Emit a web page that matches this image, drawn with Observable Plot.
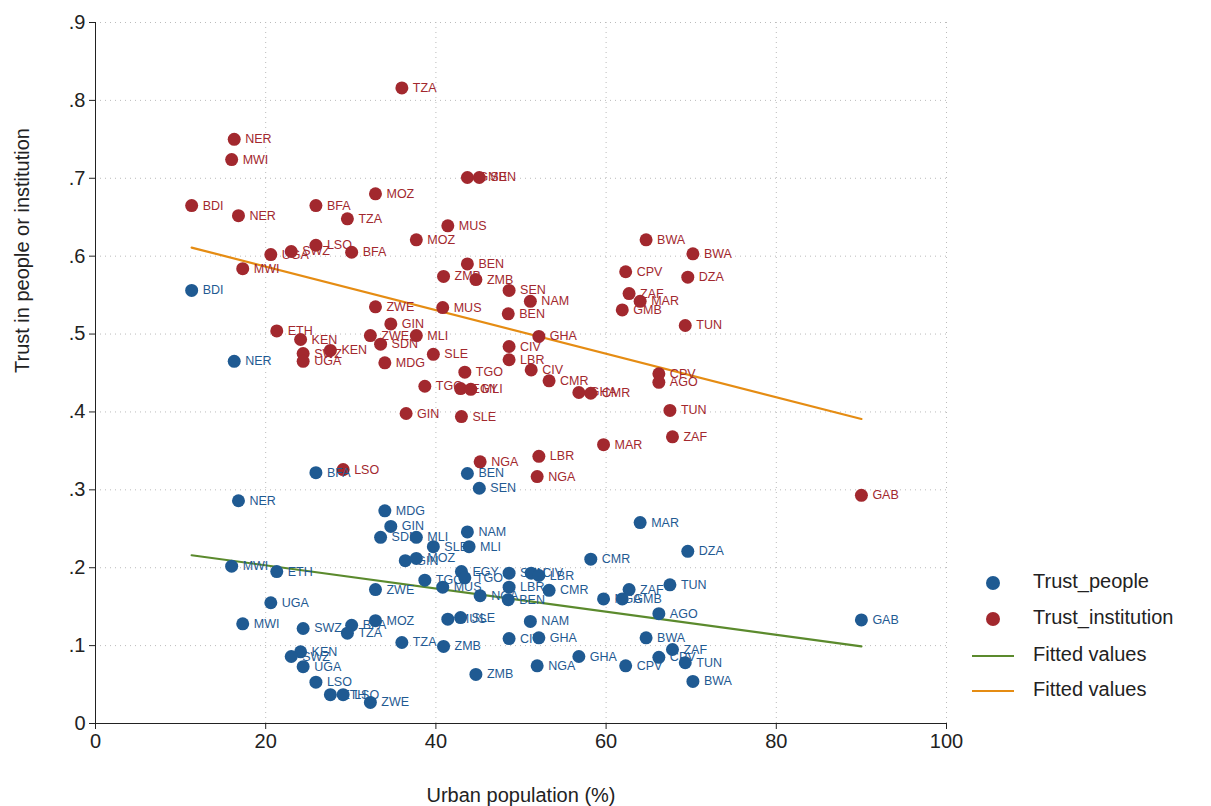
<!DOCTYPE html>
<html><head><meta charset="utf-8">
<script src="https://cdn.jsdelivr.net/npm/d3@7"></script>
<script src="https://cdn.jsdelivr.net/npm/@observablehq/plot@0.6"></script>
<style>
body{margin:0;background:#fff;font-family:Arial,"Liberation Sans",sans-serif}
#wrap{position:relative;width:1211px;height:806px}
.leg{position:absolute;left:0;top:0;font-size:20px;color:#222}
.leg div{position:absolute;white-space:nowrap}
</style></head><body>
<div id="wrap"></div>
<script>
const instCode=["TZA","NER","MWI","GMB","SEN","BDI","NER","BFA","TZA","MOZ","MUS","MOZ","LSO","SWZ","UGA","BFA","MWI","BEN","ZMB","ZMB","SEN","NAM","BEN","ZWE","MUS","GIN","ETH","KEN","ZWE","MLI","SDN","SWZ","KEN","UGA","MDG","SLE","GHA","CIV","LBR","CIV","TGO","CMR","TGO","EGY","MLI","GHA","CMR","GIN","SLE","BWA","BWA","CPV","DZA","ZAF","MAR","GMB","TUN","CPV","AGO","TUN","ZAF","MAR","LBR","NGA","NGA","LSO","GAB"];
const instX=[36.0,16.3,16.0,43.7,45.1,11.3,16.8,25.9,29.6,32.9,41.4,37.7,25.9,23.0,20.6,30.1,17.3,43.7,40.9,44.7,48.6,51.1,48.5,32.9,40.8,34.7,21.3,24.1,32.3,37.7,33.5,24.4,27.6,24.4,34.0,39.7,52.1,48.6,48.6,51.2,43.4,53.3,38.7,42.9,44.1,56.8,58.2,36.5,43.0,64.7,70.2,62.3,69.6,62.7,64.0,61.9,69.3,66.2,66.2,67.5,67.8,59.7,52.1,45.2,51.9,29.1,90.0];
const instY=[.816,.750,.724,.701,.701,.665,.652,.665,.648,.680,.639,.621,.614,.606,.602,.605,.584,.590,.574,.570,.556,.542,.526,.535,.534,.513,.504,.493,.498,.498,.487,.475,.479,.465,.463,.474,.497,.484,.467,.454,.451,.440,.433,.430,.429,.425,.424,.398,.394,.621,.603,.580,.573,.552,.542,.531,.511,.449,.438,.402,.368,.358,.343,.336,.317,.326,.293];
const pplCode=["BDI","NER","BFA","BEN","SEN","NER","MDG","GIN","SDN","MLI","SLE","NAM","MLI","GIN","MOZ","CMR","DZA","MAR","MWI","ETH","EGY","TGO","SEN","CIV","LBR","LBR","CMR","ZWE","TGO","MUS","NGA","BEN","UGA","ZAF","TUN","NGA","GMB","AGO","MWI","SWZ","BFA","TZA","MOZ","MUS","SLE","NAM","TZA","ZMB","CIV","GHA","GHA","NGA","ZMB","KEN","SWZ","UGA","LSO","ETH","LSO","ZWE","BWA","ZAF","CPV","TUN","CPV","BWA","GAB"];
const pplX=[11.3,16.3,25.9,43.7,45.1,16.8,34.0,34.7,33.5,37.7,39.7,43.7,43.9,36.4,37.7,58.2,69.6,64.0,16.0,21.3,43.0,43.4,48.6,51.2,52.1,48.6,53.3,32.9,38.7,40.8,45.2,48.5,20.6,62.7,67.5,59.7,61.9,66.2,17.3,24.4,30.1,29.6,32.9,41.4,42.9,51.1,36.0,40.9,48.6,52.1,56.8,51.9,44.7,24.1,23.0,24.4,25.9,27.6,29.1,32.3,64.7,67.8,66.2,69.3,62.3,70.2,90.0];
const pplY=[.556,.465,.322,.321,.302,.286,.273,.253,.239,.239,.227,.246,.227,.209,.212,.211,.221,.258,.202,.195,.195,.187,.193,.193,.190,.175,.171,.172,.184,.175,.164,.159,.155,.172,.178,.160,.160,.141,.128,.122,.126,.116,.132,.134,.136,.131,.104,.099,.109,.110,.086,.074,.063,.092,.086,.073,.053,.037,.037,.027,.110,.095,.085,.078,.074,.054,.133];
const fitX=[11.3,90];
const fitPeople=[.216,.099];
const fitInst=[.611,.391];
const xTicks=[0,20,40,60,80,100];
const yTicks=[0,.1,.2,.3,.4,.5,.6,.7,.8,.9];

const BLUE="#1f5a92",RED="#a2282e",GREEN="#5b8a2d",ORANGE="#e58c13";
const inst=instCode.map((c,i)=>({c,x:instX[i],y:instY[i]}));
const ppl=pplCode.map((c,i)=>({c,x:pplX[i],y:pplY[i]}));
const fp=fitX.map((x,i)=>({x,y:fitPeople[i]}));
const fi=fitX.map((x,i)=>({x,y:fitInst[i]}));
const yfmt=d=>d===0?"0":d3.format(".1f")(d).replace(/^0/,"");

const chart=Plot.plot({
  width:1211,height:806,marginLeft:95,marginRight:265,marginTop:22,marginBottom:83,
  style:{fontFamily:"Arial, Liberation Sans, sans-serif",background:"#fff"},
  x:{domain:[0,100],ticks:xTicks,label:null},
  y:{domain:[0,0.9],ticks:yTicks,label:null},
  marks:[
    Plot.gridX(xTicks,{stroke:"#bbb",strokeOpacity:1,strokeDasharray:"1,4"}),
    Plot.gridY(yTicks,{stroke:"#bbb",strokeOpacity:1,strokeDasharray:"1,4"}),
    Plot.axisX({ticks:xTicks,fontSize:20,tickSize:6,tickPadding:4,color:"#222"}),
    Plot.axisY({ticks:yTicks,tickFormat:yfmt,fontSize:20,tickSize:6,tickPadding:4,color:"#222"}),
    Plot.ruleY([0],{stroke:"#222"}),
    Plot.ruleX([0],{stroke:"#222"}),
    Plot.text(["Urban population (%)"],{frameAnchor:"bottom",dy:78,fontSize:20,fill:"#222"}),
    Plot.text(["Trust in people or institution"],{frameAnchor:"left",dx:-73,rotate:-90,fontSize:20,fill:"#222"}),
    Plot.line(fi,{x:"x",y:"y",stroke:ORANGE,strokeWidth:2.2}),
    Plot.line(fp,{x:"x",y:"y",stroke:GREEN,strokeWidth:2.2}),
    Plot.dot(inst,{x:"x",y:"y",r:6.5,fill:RED}),
    Plot.text(inst,{x:"x",y:"y",text:"c",dx:11,textAnchor:"start",fill:RED,fontSize:12.5}),
    Plot.dot(ppl,{x:"x",y:"y",r:6.5,fill:BLUE}),
    Plot.text(ppl,{x:"x",y:"y",text:"c",dx:11,textAnchor:"start",fill:BLUE,fontSize:12.5})
  ]
});
const wrap=document.getElementById("wrap");
wrap.appendChild(chart);
const leg=document.createElement("div");leg.className="leg";
leg.innerHTML=`
<div style="left:986px;top:576px;width:14px;height:14px;border-radius:50%;background:${BLUE}"></div>
<div style="left:1033px;top:570px">Trust_people</div>
<div style="left:986px;top:612px;width:14px;height:14px;border-radius:50%;background:${RED}"></div>
<div style="left:1033px;top:606px">Trust_institution</div>
<div style="left:972px;top:655px;width:42px;height:2px;background:${GREEN}"></div>
<div style="left:1033px;top:643px">Fitted values</div>
<div style="left:972px;top:690px;width:42px;height:2px;background:${ORANGE}"></div>
<div style="left:1033px;top:678px">Fitted values</div>`;
wrap.appendChild(leg);
</script></body></html>
